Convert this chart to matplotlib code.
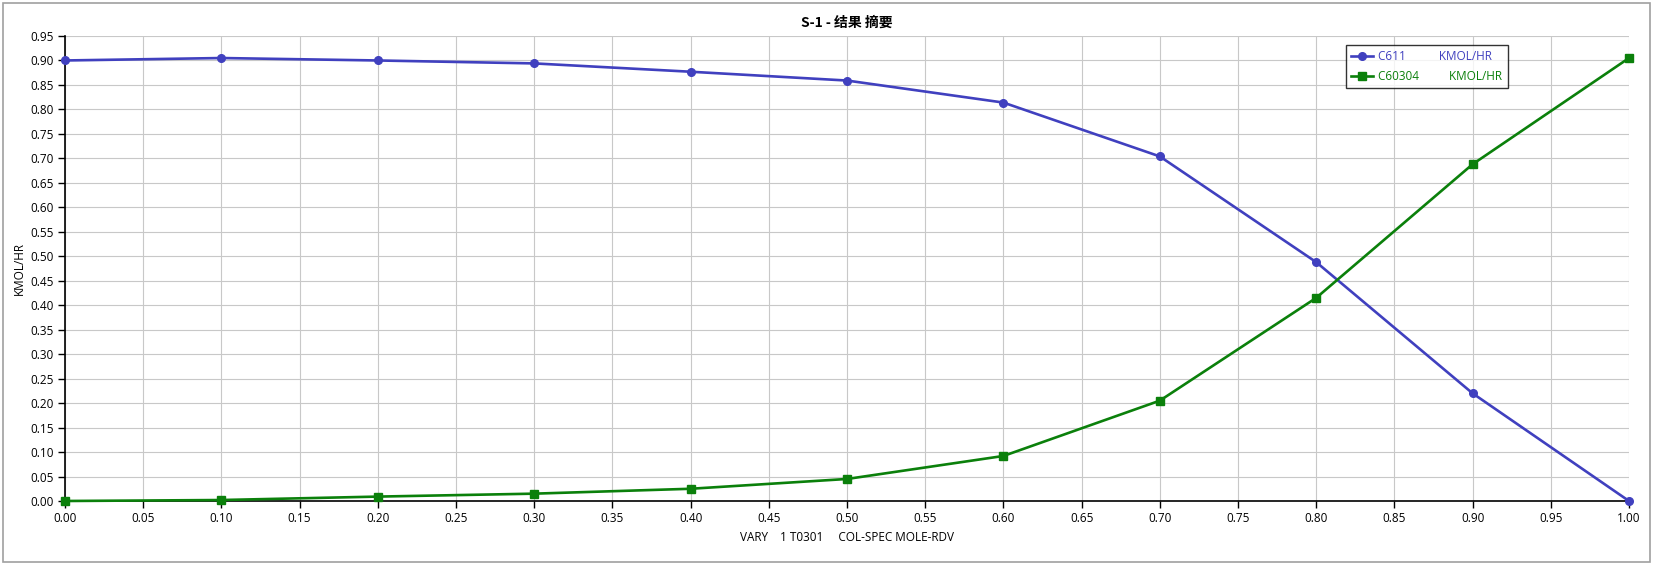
import numpy as np
import matplotlib
matplotlib.use("Agg")
import matplotlib.pyplot as plt
from matplotlib.patches import Rectangle

plt.rcParams['font.family'] = ['Open Sans', 'Noto Sans CJK SC', 'DejaVu Sans']

# Data
x_vals = [0.0, 0.1, 0.2, 0.3, 0.4, 0.5, 0.6, 0.7, 0.8, 0.9, 1.0]
c611 = [0.900, 0.905, 0.900, 0.894, 0.877, 0.859, 0.814, 0.704, 0.488, 0.220, 0.000]
c60304 = [0.000, 0.002, 0.009, 0.015, 0.025, 0.045, 0.092, 0.205, 0.415, 0.688, 0.905]
x_ticks = np.round(np.arange(0, 1.0001, 0.05), 2)
y_ticks = np.round(np.arange(0, 0.9501, 0.05), 2)

blue = '#4040bf'
green = '#0b800b'

W, H = 1655, 565
fig = plt.figure(figsize=(W / 100, H / 100), dpi=100)
ax = fig.add_axes([65 / W, (H - 501) / H, (1629 - 65) / W, (501 - 36) / H])

ax.plot(x_vals, c611, color=blue, lw=1.9, marker='o', ms=5.5,
        label='C611           KMOL/HR', zorder=3, clip_on=False)
ax.plot(x_vals, c60304, color=green, lw=1.9, marker='s', ms=5.5,
        label='C60304          KMOL/HR', zorder=3, clip_on=False)

ax.set_xlim(0, 1)
ax.set_ylim(0, 0.95)
ax.set_xticks(x_ticks)
ax.set_yticks(y_ticks)
ax.set_xticklabels([f'{v:.2f}' for v in x_ticks])
ax.set_yticklabels([f'{v:.2f}' for v in y_ticks])
ax.tick_params(labelsize=8.5, length=5, width=1, direction='out', colors='black', pad=3)
ax.grid(True, color='#c8c8c8', lw=0.8)
ax.set_axisbelow(True)
for s in ['top', 'right']:
    ax.spines[s].set_visible(False)
for s in ['left', 'bottom']:
    ax.spines[s].set_color('black')
    ax.spines[s].set_linewidth(1.2)

ax.set_xlabel('VARY    1 T0301     COL-SPEC MOLE-RDV', fontsize=8.5, labelpad=4)
ax.set_ylabel('KMOL/HR', fontsize=8.5)
ax.yaxis.set_label_coords((26 - 65) / (1629 - 65), 0.5)
ax.set_title('S-1 - 结果 摘要', fontsize=10, fontweight='bold',
             family=['Noto Sans CJK SC', 'DejaVu Sans'], pad=7)

leg = ax.legend(loc='upper left', bbox_to_anchor=((1346 - 65) / (1629 - 65), 1 - (45 - 36) / 465),
                fontsize=8.5, frameon=True, fancybox=False, edgecolor='black',
                handlelength=1.8, handletextpad=0.5, borderpad=0.45, labelspacing=0.55,
                borderaxespad=0)
leg.get_frame().set_linewidth(1.0)
for txt, col in zip(leg.get_texts(), [blue, green]):
    txt.set_color(col)

# outer frame
fig.patches.append(Rectangle((3 / W, 3 / H), (1650 - 3) / W, (562 - 3) / H,
                             transform=fig.transFigure, fill=False,
                             edgecolor='#a0a0a0', lw=1.2))

fig.savefig('out.png', dpi=100)
